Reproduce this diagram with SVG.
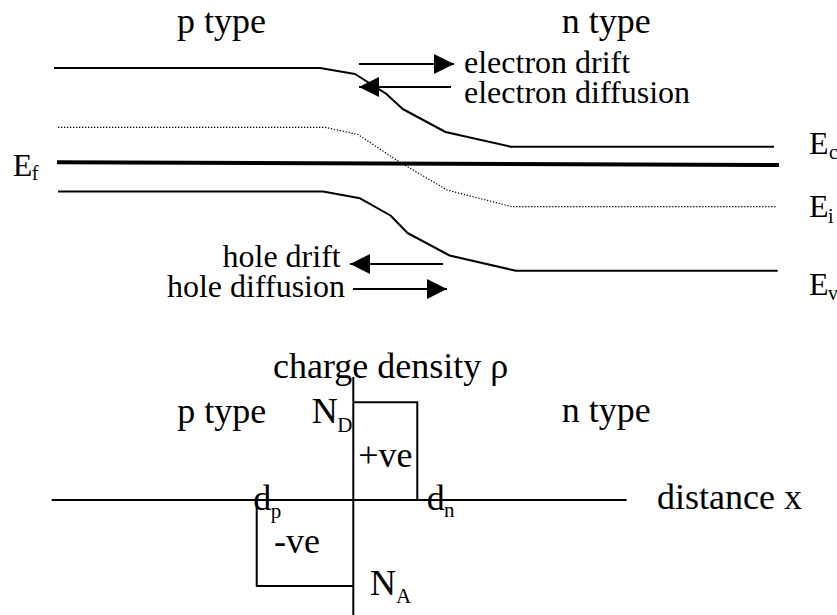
<svg xmlns="http://www.w3.org/2000/svg" width="837" height="615" viewBox="0 0 837 615">
<style>
text{font-family:"Liberation Serif","Times New Roman",serif;fill:#000}
.big{font-size:36px}
.med{font-size:32px}
.sub{font-size:20px}
.ln{fill:none;stroke:#000;stroke-width:2;stroke-linejoin:round}
.thick{fill:none;stroke:#000;stroke-width:4}
.dot{fill:none;stroke:#000;stroke-width:1.2;stroke-dasharray:1.3 1.7}
.arr{fill:none;stroke:#000;stroke-width:2;marker-end:url(#ah)}
</style>
<defs>
<marker id="ah" markerUnits="userSpaceOnUse" markerWidth="20" markerHeight="20" refX="20" refY="10" orient="auto">
<path d="M0,0 L20,10 L0,20 z" fill="#000"/>
</marker>
</defs>
<rect width="837" height="615" fill="#fff"/>
<g id="bands">
<polyline id="Ec" class="ln" points="54,68 320,68 355,74 385.6,93.3 402.7,109 445.5,132 510.6,146.7 774,146.7"/>
<line id="Ef" class="thick" x1="57" y1="162.3" x2="779" y2="165"/>
<polyline id="Ei" class="dot" points="58,127.3 325,127.3 358,134.5 399,161.7 447,190 512,206.7 776.7,206.7"/>
<polyline id="Ev" class="ln" points="58,191.5 323,191.5 360,198.3 390.5,215.5 407.5,233 449.5,255.5 515.8,270.7 777.7,270.7"/>
</g>
<g id="connectors">
<line class="arr" x1="359" y1="64" x2="454" y2="64"/>
<line class="arr" x1="451" y1="87" x2="359" y2="87"/>
<line class="arr" x1="443" y1="264" x2="350" y2="264"/>
<line class="arr" x1="353" y1="289" x2="447" y2="289"/>
</g>
<g id="top-labels">
<text class="big" x="177" y="33.3">p type</text>
<text class="big" x="561.7" y="33.3">n type</text>
<text class="med" x="464" y="73.3">electron drift</text>
<text class="med" x="464" y="103.3">electron diffusion</text>
<text class="med" x="340.7" y="266.7" text-anchor="end">hole drift</text>
<text class="med" x="345" y="297.3" text-anchor="end">hole diffusion</text>
<g id="label-Ef"><text class="med" x="12.7" y="175.5">E</text><text class="sub" x="31.7" y="180">f</text></g>
<g id="label-Ec"><text class="med" x="809" y="154">E</text><text class="sub" x="829" y="159">c</text></g>
<g id="label-Ei"><text class="med" x="809" y="217.3">E</text><text class="sub" x="828" y="223">i</text></g>
<g id="label-Ev"><text class="med" x="809" y="295">E</text><text class="sub" x="828" y="300">v</text></g>
</g>
<g id="charge-plot">
<line class="ln" x1="51.7" y1="500" x2="626.6" y2="500"/>
<line class="ln" x1="353.3" y1="377" x2="353.3" y2="615"/>
<polyline class="ln" points="353.3,402.3 417.3,402.3 417.3,500"/>
<polyline class="ln" points="353.3,586 256.7,586 256.7,500"/>
</g>
<g id="bottom-labels">
<text class="big" x="273" y="378.3">charge density ρ</text>
<text class="big" x="177.3" y="423.3">p type</text>
<text class="big" x="561.7" y="421.7">n type</text>
<g id="label-ND"><text class="big" x="311.7" y="423.3">N</text><text class="sub" x="337.3" y="431.7" style="font-size:21px">D</text></g>
<text class="big" x="358.3" y="466.7">+ve</text>
<text class="big" x="657" y="509.3">distance x</text>
<g id="label-dp"><text class="big" x="253.3" y="510">d</text><text class="sub" x="270.7" y="518.3" style="font-size:21px">p</text></g>
<g id="label-dn"><text class="big" x="426.7" y="510">d</text><text class="sub" x="444" y="517.3" style="font-size:21px">n</text></g>
<text class="big" x="274" y="552.7">-ve</text>
<g id="label-NA"><text class="big" x="370" y="595">N</text><text class="sub" x="396" y="603.3" style="font-size:21px">A</text></g>
</g>
</svg>
